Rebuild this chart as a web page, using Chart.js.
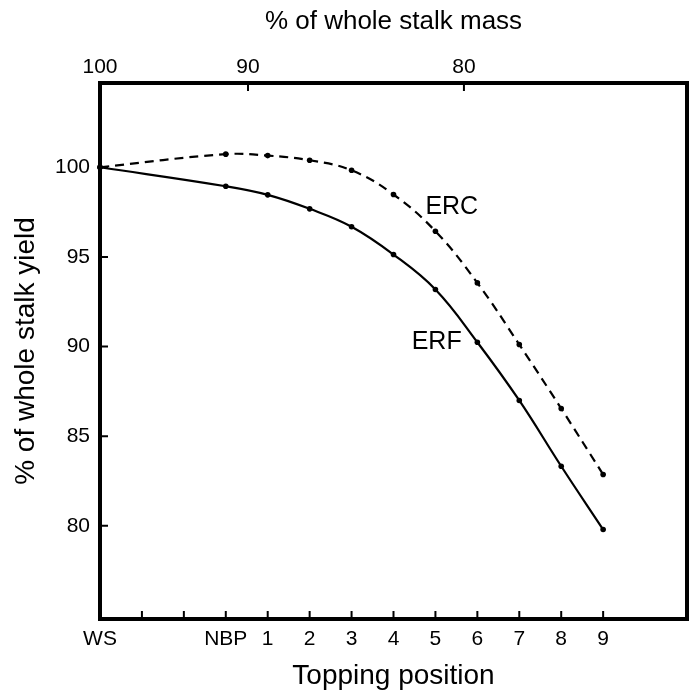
<!DOCTYPE html>
<html>
<head>
<meta charset="utf-8">
<script src="https://cdn.jsdelivr.net/npm/chart.js@4.4.1/dist/chart.umd.min.js"></script>
<style>
  html, body { margin: 0; padding: 0; background: #fff; }
  #wrap { width: 695px; height: 694px; }
</style>
</head>
<body>
<div id="wrap"><canvas id="chart" width="695" height="694"></canvas></div>
<script>
// topping positions along the bottom axis (WS, two unlabeled steps, NBP, 1..9)
const toppingLabels = ['WS', 'NBP', '1', '2', '3', '4', '5', '6', '7', '8', '9']
const toppingPos = [0, 3, 4, 5, 6, 7, 8, 9, 10, 11, 12]
const bottomTicks = [0, 1, 2, 3, 4, 5, 6, 7, 8, 9, 10, 11, 12]

// % of whole stalk yield
const erf = [100, 98.94, 98.46, 97.68, 96.68, 95.13, 93.18, 90.24, 86.99, 83.32, 79.79]
const erc = [100, 100.73, 100.65, 100.39, 99.83, 98.48, 96.43, 93.55, 90.11, 86.54, 82.86]

// top axis: % of whole stalk mass, placed against topping position
const massLabels = ['100', '90', '80']
const massPos = [0, 3.53, 8.68]

const yTicks = [80, 85, 90, 95, 100]

// curve labels, in data coordinates
const curveLabels = [
  { text: 'ERC', x: 8.39, y: 97.75 },
  { text: 'ERF', x: 8.03, y: 90.25 },
]

const FONT = "'Liberation Sans', Arial, Helvetica, sans-serif"
Chart.defaults.font.family = FONT
Chart.defaults.color = '#000'

// thick frame, inward tick marks and curve names
const framePlugin = {
  id: 'frame',
  afterDraw(chart) {
    const { ctx, chartArea: a, scales } = chart
    ctx.save()
    ctx.strokeStyle = '#000'
    ctx.lineWidth = 4
    ctx.strokeRect(a.left, a.top, a.right - a.left, a.bottom - a.top)

    ctx.lineWidth = 2
    const len = 8
    ctx.beginPath()
    bottomTicks.forEach(v => {
      if (v === 0) return
      const px = scales.x.getPixelForValue(v)
      ctx.moveTo(px, a.bottom)
      ctx.lineTo(px, a.bottom - len)
    })
    massPos.forEach(v => {
      if (v === 0) return
      const px = scales.x2.getPixelForValue(v)
      ctx.moveTo(px, a.top)
      ctx.lineTo(px, a.top + len)
    })
    yTicks.forEach(v => {
      const py = scales.y.getPixelForValue(v)
      ctx.moveTo(a.left, py)
      ctx.lineTo(a.left + len, py)
    })
    ctx.stroke()

    ctx.fillStyle = '#000'
    ctx.font = '25px ' + FONT
    ctx.textAlign = 'center'
    ctx.textBaseline = 'middle'
    curveLabels.forEach(l => {
      ctx.fillText(l.text, scales.x.getPixelForValue(l.x), scales.y.getPixelForValue(l.y))
    })
    ctx.restore()
  }
}

const toPoints = (vals) => toppingPos.map((x, i) => ({ x, y: vals[i] }))

new Chart(document.getElementById('chart'), {
  type: 'line',
  data: {
    datasets: [
      {
        label: 'ERF',
        data: toPoints(erf),
        borderColor: '#000',
        backgroundColor: '#000',
        borderWidth: 2.2,
        pointRadius: 2.8,
        pointBorderWidth: 0,
        tension: 0.4,
        clip: false,
      },
      {
        label: 'ERC',
        data: toPoints(erc),
        borderColor: '#000',
        backgroundColor: '#000',
        borderWidth: 2.2,
        borderDash: [9, 6],
        pointRadius: 2.8,
        pointBorderWidth: 0,
        tension: 0.4,
        clip: false,
      },
    ],
  },
  options: {
    responsive: false,
    animation: false,
    layout: { padding: { right: 8 } },
    plugins: {
      legend: { display: false },
      tooltip: { enabled: false },
    },
    scales: {
      x: {
        type: 'linear',
        position: 'bottom',
        min: 0,
        max: 14,
        grid: { display: false, drawTicks: false },
        border: { display: false },
        afterBuildTicks: (s) => { s.ticks = bottomTicks.map(v => ({ value: v })) },
        afterFit: (s) => { s.height = 75 },
        ticks: {
          autoSkip: false,
          maxRotation: 0,
          padding: 8,
          font: { size: 21 },
          callback: (v) => {
            const i = toppingPos.indexOf(v)
            return i >= 0 ? toppingLabels[i] : ''
          },
        },
        title: {
          display: true,
          text: 'Topping position',
          font: { size: 28 },
          padding: { top: 0, bottom: 1 },
        },
      },
      x2: {
        type: 'linear',
        position: 'top',
        min: 0,
        max: 14,
        grid: { display: false, drawTicks: false },
        border: { display: false },
        afterBuildTicks: (s) => { s.ticks = massPos.map(v => ({ value: v })) },
        afterFit: (s) => { s.height = 83 },
        ticks: {
          autoSkip: false,
          maxRotation: 0,
          padding: 3,
          font: { size: 21 },
          callback: (v) => {
            const i = massPos.indexOf(v)
            return i >= 0 ? massLabels[i] : ''
          },
        },
        title: {
          display: true,
          text: '% of whole stalk mass',
          font: { size: 26 },
          padding: { top: 6, bottom: 0 },
        },
      },
      y: {
        type: 'linear',
        min: 74.8,
        max: 104.7,
        grid: { display: false, drawTicks: false },
        border: { display: false },
        afterBuildTicks: (s) => { s.ticks = yTicks.map(v => ({ value: v })) },
        afterFit: (s) => { s.width = 100 },
        ticks: {
          padding: 10,
          font: { size: 21 },
        },
        title: {
          display: true,
          text: '% of whole stalk yield',
          font: { size: 28 },
          padding: { top: 9, bottom: 0 },
        },
      },
    },
  },
  plugins: [framePlugin],
})
</script>
</body>
</html>
